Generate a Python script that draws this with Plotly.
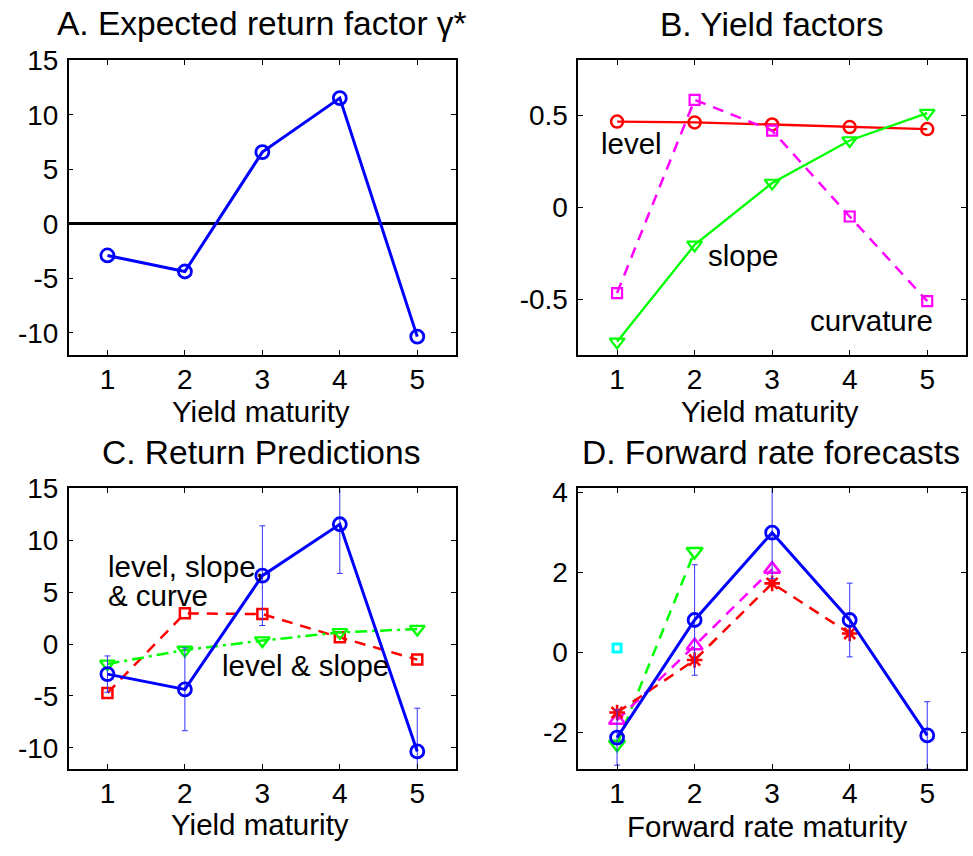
import plotly.graph_objects as go

# ---------------- data ----------------
maturity = [1, 2, 3, 4, 5]

# Panel A: expected return factor gamma*
gamma_star = [-2.9, -4.37, 6.58, 11.53, -10.34]

# Panel B: yield factors
level = [0.467, 0.462, 0.451, 0.437, 0.426]
slope = [-0.73, -0.203, 0.133, 0.364, 0.513]
curvature = [-0.465, 0.585, 0.418, -0.049, -0.509]

# Panel C: return predictions
ret_unrestricted = [-2.9, -4.37, 6.58, 11.53, -10.34]
ret_unrestricted_se = [1.75, 3.98, 4.8, 4.73, 4.16]
ret_lsc = [-4.71, 2.95, 2.88, 0.64, -1.5]
ret_ls = [-1.92, -0.58, 0.33, 1.12, 1.44]

# Panel D: forward rate forecasts
fwd_all = [-2.125, 0.81, 2.99, 0.81, -2.07]
fwd_all_se = [0.69, 1.38, 1.15, 0.92, 0.84]
fwd_m4_x = [1, 2, 3, 4]
fwd_m4 = [-1.5, -0.19, 1.725, 0.475]
fwd_m3_x = [1, 2, 3]
fwd_m3 = [-1.69, 0.17, 2.08]
fwd_m2_x = [1, 2]
fwd_m2 = [-2.29, 2.52]
fwd_m1_x = [1]
fwd_m1 = [0.11]

titles = ["A. Expected return factor γ*", "B. Yield factors",
          "C. Return Predictions", "D. Forward rate forecasts"]
xlabels = ["Yield maturity", "Yield maturity", "Yield maturity", "Forward rate maturity"]

BLUE = "rgb(0,0,255)"
RED = "rgb(255,0,0)"
GREEN = "rgb(0,255,0)"
MAG = "rgb(255,0,255)"
CYAN = "rgb(0,255,255)"
FONT = "Liberation Sans, Arial, Helvetica, sans-serif"
DASH = "11px,8px"
DASHDOT = "12px,5px,3px,5px"

fig = go.Figure()

def line_trace(x, y, color, xa, ya, symbol, size, width=2.5, dash="solid", err=None, mlw=2.5):
    kw = {}
    if err is not None:
        kw["error_y"] = dict(type="data", array=err, symmetric=True, color="rgb(50,50,255)",
                             thickness=1, width=3)
    return go.Scatter(x=x, y=y, mode="lines+markers", xaxis=xa, yaxis=ya,
                      line=dict(color=color, width=width, dash=dash),
                      marker=dict(symbol=symbol, size=size, color=color,
                                  line=dict(color=color, width=mlw)),
                      showlegend=False, **kw)

# A
fig.add_trace(line_trace(maturity, gamma_star, BLUE, "x", "y", "circle-open", 13, 3, mlw=2.8))
# B
fig.add_trace(line_trace(maturity, level, RED, "x2", "y2", "circle-open", 12, 2.3, mlw=2.5))
fig.add_trace(line_trace(maturity, curvature, MAG, "x2", "y2", "square-open", 10, 2.5, DASH, mlw=2.2))
fig.add_trace(line_trace(maturity, slope, GREEN, "x2", "y2", "triangle-down-open", 13, 2.3, mlw=2.2))
# C
fig.add_trace(line_trace(maturity, ret_lsc, RED, "x3", "y3", "square-open", 10, 2.5, DASH, mlw=2.5))
fig.add_trace(line_trace(maturity, ret_ls, GREEN, "x3", "y3", "triangle-down-open", 13, 2.5, DASHDOT,
                         mlw=2.3))
fig.add_trace(line_trace(maturity, ret_unrestricted, BLUE, "x3", "y3", "circle-open", 13, 3,
                         err=ret_unrestricted_se, mlw=2.8))
# D
fig.add_trace(line_trace(fwd_m2_x, fwd_m2, GREEN, "x4", "y4", "triangle-down-open", 14, 2.5, DASH))
fig.add_trace(line_trace(fwd_m3_x, fwd_m3, MAG, "x4", "y4", "triangle-up-open", 14, 2.5, DASH))
fig.add_trace(line_trace(fwd_m4_x, fwd_m4, RED, "x4", "y4", "asterisk-open", 13, 2.5, DASH, mlw=2.6))
fig.add_trace(line_trace(fwd_m1_x, fwd_m1, CYAN, "x4", "y4", "square-open", 8, 2.5, mlw=3))
fig.add_trace(line_trace(maturity, fwd_all, BLUE, "x4", "y4", "circle-open", 13, 3,
                         err=fwd_all_se, mlw=2.8))

W, H = 973, 856
# the page is captured with a small vertical offset/squeeze; map target pixel rows to figure rows
OFF, SQ = 16.5, 0.981

def fy(py):
    return (py - OFF) / SQ

def pyfrac(py):
    return 1 - fy(py) / H

xdom_l = [68.7 / W, 456 / W]
xdom_r = [578.3 / W, 966 / W]
ydom_t = [pyfrac(355.7), pyfrac(61.7)]
ydom_b = [pyfrac(769), pyfrac(489)]

def xax(dom, anchor):
    return dict(domain=dom, anchor=anchor, range=[0.5, 5.5], tickvals=maturity,
                ticks="inside", ticklen=5, tickwidth=1, tickcolor="black",
                showline=True, linecolor="black", linewidth=1.5, mirror="ticks",
                showgrid=False, zeroline=False, ticklabelstandoff=-1,
                tickfont=dict(size=28, color="black", family=FONT))

def yax(dom, anchor, rng, tv, tt, zero=False):
    return dict(domain=dom, anchor=anchor, range=rng, tickvals=tv, ticktext=tt,
                ticks="inside", ticklen=5, tickwidth=1, tickcolor="black",
                showline=True, linecolor="black", linewidth=1.5, mirror="ticks",
                showgrid=False, zeroline=zero, zerolinecolor="black", zerolinewidth=2.5,
                ticklabelstandoff=3,
                tickfont=dict(size=28, color="black", family=FONT))

fig.update_layout(
    width=W, height=H, autosize=False,
    margin=dict(l=0, r=0, t=0, b=0, pad=0),
    paper_bgcolor="white", plot_bgcolor="white",
    font=dict(family=FONT, color="black"),
    xaxis=xax(xdom_l, "y"),
    yaxis=yax(ydom_t, "x", [-12, 15], [-10, -5, 0, 5, 10, 15],
              ["-10", "-5", "0", "5", "10", "15"], zero=True),
    xaxis2=xax(xdom_r, "y2"),
    yaxis2=yax(ydom_t, "x2", [-0.8, 0.8], [-0.5, 0, 0.5], ["-0.5", "0", "0.5"]),
    xaxis3=xax(xdom_l, "y3"),
    yaxis3=yax(ydom_b, "x3", [-12, 15], [-10, -5, 0, 5, 10, 15],
               ["-10", "-5", "0", "5", "10", "15"]),
    xaxis4=xax(xdom_r, "y4"),
    yaxis4=yax(ydom_b, "x4", [-2.9, 4.1], [-2, 0, 2, 4], ["-2", "0", "2", "4"]),
)

ann = []
title_pos = [(262, 25), (771, 26), (260.5, 453), (771, 453)]
for t, (px, py) in zip(titles, title_pos):
    ann.append(dict(text=t, x=px / W, y=pyfrac(py), xref="paper", yref="paper",
                    xanchor="center", yanchor="middle", showarrow=False,
                    font=dict(size=33.5, family=FONT, color="black")))
xl_pos = [(261, 412), (770, 412), (259.7, 825), (767.7, 827)]
for t, (px, py) in zip(xlabels, xl_pos):
    ann.append(dict(text=t, x=px / W, y=pyfrac(py), xref="paper", yref="paper",
                    xanchor="center", yanchor="middle", showarrow=False,
                    font=dict(size=29.5, family=FONT, color="black")))

def lab(text, x, y, xref, yref, anchor="center"):
    return dict(text=text, x=x, y=y, xref=xref, yref=yref, xanchor=anchor,
                yanchor="middle", showarrow=False,
                font=dict(size=29.5, family=FONT, color="black"))

ann += [
    lab("level", 1.18, 0.346, "x2", "y2"),
    lab("slope", 2.635, -0.261, "x2", "y2"),
    lab("curvature", 4.28, -0.614, "x2", "y2"),
    lab("level, slope,", 0.98, 7.45, "x3", "y3", "left"),
    lab("& curve", 0.98, 4.7, "x3", "y3", "left"),
    lab("level & slope", 3.56, -2.05, "x3", "y3"),
]
fig.update_layout(annotations=ann)

fig.write_html("out.html", config={"displayModeBar": False},
               post_script="document.body.style.margin='0';document.body.style.overflow='hidden';")
